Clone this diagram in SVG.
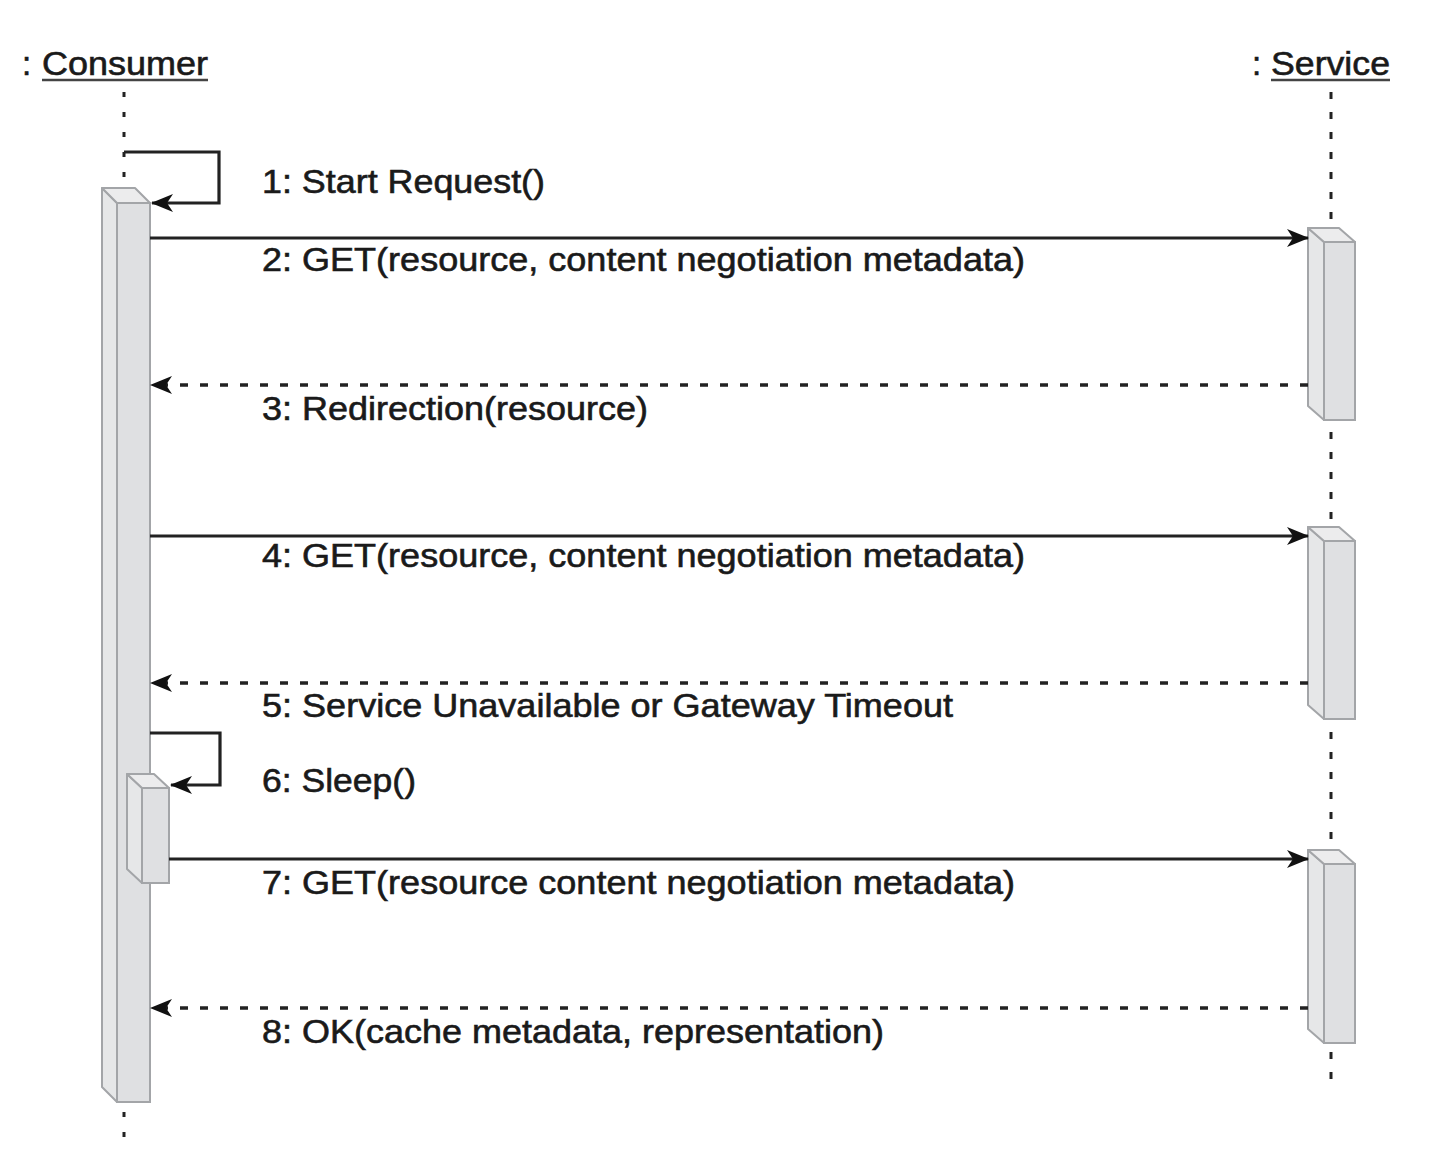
<svg xmlns="http://www.w3.org/2000/svg" width="1431" height="1162" viewBox="0 0 1431 1162">
<style>
  .t { font-family: "Liberation Sans", Arial, sans-serif; font-size: 33px; fill: #1a1a1a; stroke: #1a1a1a; stroke-width: 0.6px; }
  .life { stroke: #222; stroke-width: 3; fill: none; }
  .life1 { stroke-dasharray: 5 15; }
  .life2 { stroke-dasharray: 7 13; }
  .side { fill: #e6e7e8; stroke: #a3a5a8; stroke-width: 2; stroke-linejoin: round; }
  .top { fill: #ececed; stroke: #a3a5a8; stroke-width: 2; stroke-linejoin: round; }
  .front { fill: #dfe0e2; stroke: #a3a5a8; stroke-width: 2; }
  .msg { stroke: #222; stroke-width: 3.2; fill: none; marker-end: url(#arr); }
  .ret { stroke: #222; stroke-width: 3.5; fill: none; stroke-dasharray: 8 12; marker-end: url(#arr); }
  .ul { stroke: #444; stroke-width: 2.5; }
</style>
<defs>
  <marker id="arr" viewBox="0 0 22 18" refX="21" refY="9" markerWidth="22" markerHeight="18" markerUnits="userSpaceOnUse" orient="auto">
    <path d="M0,0 L22,9 L0,18 L6,9 Z" fill="#111"/>
  </marker>
</defs>
<rect width="1431" height="1162" fill="#fff"/>

<g id="consumer">
  <line class="life life1" x1="124" y1="92" x2="124" y2="1145"/>
  <text class="t" x="22" y="75">:</text>
  <text class="t" x="42" y="75" textLength="166" lengthAdjust="spacingAndGlyphs">Consumer</text>
  <line class="ul" x1="42" y1="80" x2="208" y2="80"/>
</g>

<g id="service">
  <line class="life life2" x1="1331" y1="92" x2="1331" y2="1090"/>
  <text class="t" x="1252" y="75">:</text>
  <text class="t" x="1271" y="75" textLength="119" lengthAdjust="spacingAndGlyphs">Service</text>
  <line class="ul" x1="1271" y1="80" x2="1390" y2="80"/>
</g>

<g id="consumer-activation">
  <polygon class="side" points="102,188 117,203 117,1102 102,1087"/>
  <polygon class="top" points="102,188 135,188 150,203 117,203"/>
  <rect class="front" x="117" y="203" width="33" height="899"/>
</g>

<g id="consumer-sleep-activation">
  <polygon class="side" points="127,774 142,788 142,883 127,869"/>
  <polygon class="top" points="127,774 154,774 169,788 142,788"/>
  <rect class="front" x="142" y="788" width="27" height="95"/>
</g>

<g id="service-activation-1">
  <polygon class="side" points="1308,228 1324,242 1324,420 1308,406"/>
  <polygon class="top" points="1308,228 1339,228 1355,242 1324,242"/>
  <rect class="front" x="1324" y="242" width="31" height="178"/>
</g>

<g id="service-activation-2">
  <polygon class="side" points="1308,527 1324,541 1324,719 1308,705"/>
  <polygon class="top" points="1308,527 1339,527 1355,541 1324,541"/>
  <rect class="front" x="1324" y="541" width="31" height="178"/>
</g>

<g id="service-activation-3">
  <polygon class="side" points="1308,850 1324,864 1324,1043 1308,1029"/>
  <polygon class="top" points="1308,850 1339,850 1355,864 1324,864"/>
  <rect class="front" x="1324" y="864" width="31" height="179"/>
</g>

<g id="connectors">
  <path class="msg" d="M124,152 H219 V203 H152"/>
  <line class="msg" x1="150" y1="238" x2="1308" y2="238"/>
  <line class="ret" x1="1308" y1="385" x2="151" y2="385"/>
  <line class="msg" x1="150" y1="536" x2="1308" y2="536"/>
  <line class="ret" x1="1308" y1="683" x2="151" y2="683"/>
  <path class="msg" d="M150,733 H220 V785 H171"/>
  <line class="msg" x1="169" y1="859" x2="1308" y2="859"/>
  <line class="ret" x1="1308" y1="1008" x2="151" y2="1008"/>
</g>

<g id="labels">
  <text class="t" x="262" y="193" textLength="283" lengthAdjust="spacingAndGlyphs">1: Start Request()</text>
  <text class="t" x="262" y="271" textLength="763" lengthAdjust="spacingAndGlyphs">2: GET(resource, content negotiation metadata)</text>
  <text class="t" x="262" y="420" textLength="386" lengthAdjust="spacingAndGlyphs">3: Redirection(resource)</text>
  <text class="t" x="262" y="567" textLength="763" lengthAdjust="spacingAndGlyphs">4: GET(resource, content negotiation metadata)</text>
  <text class="t" x="262" y="717" textLength="691" lengthAdjust="spacingAndGlyphs">5: Service Unavailable or Gateway Timeout</text>
  <text class="t" x="262" y="792" textLength="154" lengthAdjust="spacingAndGlyphs">6: Sleep()</text>
  <text class="t" x="262" y="894" textLength="753" lengthAdjust="spacingAndGlyphs">7: GET(resource content negotiation metadata)</text>
  <text class="t" x="262" y="1043" textLength="622" lengthAdjust="spacingAndGlyphs">8: OK(cache metadata, representation)</text>
</g>
</svg>
